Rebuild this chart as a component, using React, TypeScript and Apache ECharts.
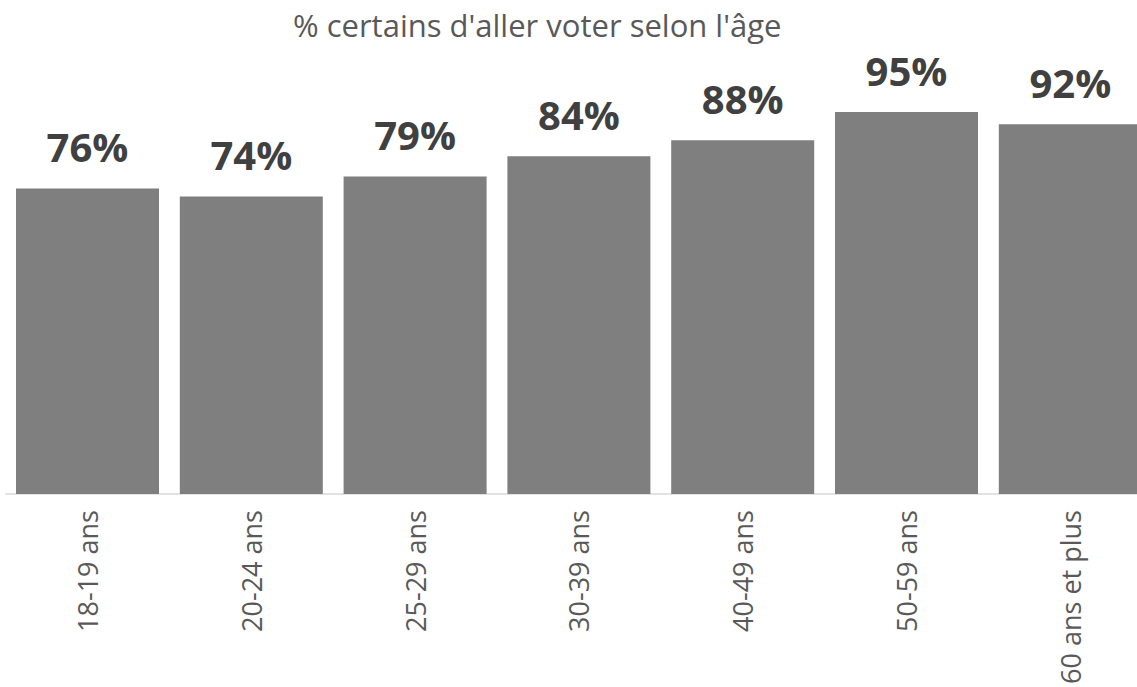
import React, { useEffect, useRef } from "react";
import * as echarts from "echarts";

const categories = ["18-19 ans", "20-24 ans", "25-29 ans", "30-39 ans", "40-49 ans", "50-59 ans", "60 ans et plus"];
const values = [76, 74, 79, 84, 88, 95, 92];
const titleText = "% certains d'aller voter selon l'âge";

export default function App() {
  const ref = useRef<HTMLDivElement>(null);
  useEffect(() => {
    if (!ref.current) return;
    const chart = echarts.init(ref.current, null, { renderer: "svg" });
    chart.setOption({
      animation: false,
      backgroundColor: "#ffffff",
      title: {
        text: titleText,
        left: 293,
        top: 9,
        padding: 0,
        textStyle: { fontFamily: "Open Sans", fontSize: 31, fontWeight: "normal", color: "#595959" },
      },
      grid: { left: 5.6, top: 92, width: 1146.6, height: 402, containLabel: false },
      xAxis: {
        type: "category",
        data: categories,
        axisLine: { show: true, lineStyle: { color: "#d9d9d9", width: 1.5 } },
        axisTick: { show: false },
        axisLabel: {
          rotate: 90,
          interval: 0,
          margin: 16,
          fontFamily: "Open Sans",
          fontSize: 27,
          color: "#595959",
        },
      },
      yAxis: { type: "value", min: 0, max: 100, show: false, splitLine: { show: false } },
      series: [
        {
          type: "bar",
          data: values,
          barWidth: 143,
          itemStyle: { color: "#7f7f7f" },
          label: {
            show: true,
            position: "top",
            distance: 22,
            formatter: "{c}%",
            fontFamily: "Open Sans",
            fontWeight: "bold",
            fontSize: 40,
            color: "#404040",
          },
        },
      ],
    });
    return () => chart.dispose();
  }, []);
  return (
    <div style={{ position: "fixed", left: 0, top: 0, width: 1137, height: 687, overflow: "hidden", background: "#fff" }}>
      <div ref={ref} style={{ position: "absolute", left: 0, top: 0, width: 1170, height: 687 }} />
    </div>
  );
}
